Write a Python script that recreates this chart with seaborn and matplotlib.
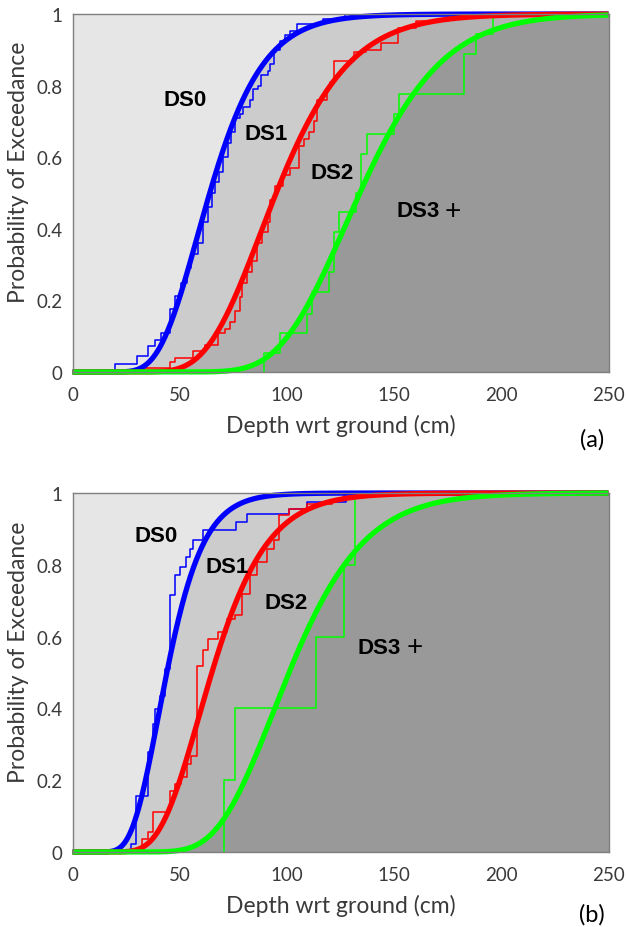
import math
import numpy as np
import matplotlib
matplotlib.use("Agg")
import matplotlib.pyplot as plt
import seaborn as sns

# ---- fitted lognormal fragility parameters (median depth in cm, log-std) ----
states = ["DS0", "DS1", "DS2"]
median_a = [64.0, 95.0, 134.0]
beta_a = [0.305, 0.28, 0.225]
median_b = [44.0, 65.0, 101.0]
beta_b = [0.305, 0.31, 0.27]

# ---- empirical exceedance steps: depth (cm) and probability after the step ----
blue_x_a = [20.0, 30.0, 35.3, 38.5, 41.5, 45.3, 47.7, 50.8, 53.2, 55.5, 58.6, 61.0,
            63.3, 65.0, 66.5, 68.5, 70.0, 72.5, 74.0, 76.0, 78.0, 79.6, 83.0, 84.0,
            86.6, 88.0, 91.0, 92.0, 94.0, 96.6, 99.0, 101.6, 104.7, 117.0, 127.3]
blue_p_a = [0.022, 0.045, 0.073, 0.09, 0.11, 0.176, 0.213, 0.25, 0.29, 0.33, 0.36, 0.42,
            0.46, 0.50, 0.53, 0.56, 0.60, 0.64, 0.67, 0.71, 0.72, 0.74, 0.76, 0.79,
            0.80, 0.83, 0.84, 0.86, 0.90, 0.925, 0.94, 0.953, 0.972, 0.986, 1.0]
red_x_a = [30.0, 45.3, 47.7, 56.0, 62.0, 68.0, 71.1, 73.5, 75.8, 78.2, 79.0, 81.3,
           83.6, 86.0, 88.3, 91.1, 92.2, 94.6, 98.0, 101.6, 105.5, 107.8, 110.2, 112.5,
           114.1, 118.8, 120.3, 121.9, 131.3, 136.7, 143.8, 152.0, 160.0, 175.0]
red_p_a = [0.012, 0.028, 0.04, 0.058, 0.075, 0.11, 0.12, 0.14, 0.17, 0.21, 0.25, 0.28,
           0.31, 0.36, 0.39, 0.42, 0.48, 0.52, 0.55, 0.57, 0.63, 0.65, 0.67, 0.70,
           0.76, 0.79, 0.81, 0.87, 0.894, 0.90, 0.92, 0.96, 0.98, 1.0]
green_x_a = [89.2, 96.9, 109.4, 111.7, 119.5, 121.9, 124.2, 132.0, 134.4, 137.5,
             150.0, 152.4, 182.8, 188.3, 196.1]
green_p_a = [0.053, 0.109, 0.162, 0.223, 0.278, 0.39, 0.446, 0.50, 0.61, 0.665,
             0.72, 0.777, 0.888, 0.944, 1.0]

blue_x_b = [27.4, 29.7, 35.2, 37.5, 38.3, 40.6, 43.0, 45.3, 47.7, 50.3, 52.8, 54.7,
            56.3, 60.7, 76.3, 81.3, 100.8, 109.4, 127.4]
blue_p_b = [0.022, 0.157, 0.278, 0.357, 0.398, 0.435, 0.51, 0.715, 0.771, 0.794, 0.822,
            0.845, 0.868, 0.896, 0.919, 0.942, 0.956, 0.975, 1.0]
red_x_b = [32.5, 35.2, 37.5, 45.3, 47.7, 50.8, 53.2, 55.5, 58.0, 61.0, 63.3, 68.0,
           71.9, 75.8, 78.9, 82.8, 86.0, 90.7, 93.8, 96.5, 100.8, 109.4, 121.1, 126.6]
red_p_b = [0.036, 0.056, 0.112, 0.171, 0.19, 0.208, 0.245, 0.268, 0.519, 0.562, 0.594,
           0.613, 0.65, 0.66, 0.72, 0.771, 0.808, 0.845, 0.868, 0.938, 0.956, 0.97,
           0.98, 1.0]
green_x_b = [70.8, 75.8, 113.8, 126.6, 131.6]
green_p_b = [0.2, 0.4, 0.6, 0.8, 1.0]

x_ticks = [0, 50, 100, 150, 200, 250]
y_ticks = [0, 0.2, 0.4, 0.6, 0.8, 1.0]
y_tick_labels = ["0", "0.2", "0.4", "0.6", "0.8", "1"]

curve_colors = ["#0000ff", "#ff0000", "#00ff00"]
zone_colors = ["#e6e6e6", "#cccccc", "#b3b3b3", "#999999"]
text_gray = "#3a3a3a"

sns.set_theme(style="white")
plt.rcParams["font.family"] = ["Lato", "DejaVu Sans"]


def lognorm_cdf(x, median, beta):
    return np.array([0.0 if v <= 0 else
                     0.5 * (1.0 + math.erf(math.log(v / median) / (beta * math.sqrt(2.0))))
                     for v in x])


def draw_panel(ax, medians, betas, steps, label_pos, tag, tag_y):
    depth = np.linspace(0, 250, 1251)
    cdfs = [lognorm_cdf(depth, m, b) for m, b in zip(medians, betas)]

    # damage-state zones between the fitted curves
    ax.fill_between(depth, cdfs[0], 1.0, color=zone_colors[0], lw=0)
    ax.fill_between(depth, cdfs[1], cdfs[0], color=zone_colors[1], lw=0)
    ax.fill_between(depth, cdfs[2], cdfs[1], color=zone_colors[2], lw=0)
    ax.fill_between(depth, 0.0, cdfs[2], color=zone_colors[3], lw=0)

    # empirical step curves
    for (xs, ps), c in zip(steps, curve_colors):
        sns.lineplot(x=[xs[0]] + list(xs), y=[0.0] + list(ps), drawstyle="steps-post",
                     estimator=None, sort=False, color=c, lw=1.1, ax=ax)

    # fitted fragility curves
    for cdf, c in zip(cdfs, curve_colors):
        sns.lineplot(x=depth, y=cdf, estimator=None, sort=False, color=c, lw=3.8,
                     ax=ax, clip_on=False, solid_capstyle="butt")

    ax.set_xlim(0, 250)
    ax.set_ylim(0, 1)
    ax.set_xticks(x_ticks)
    ax.set_xticklabels([str(t) for t in x_ticks])
    ax.set_yticks(y_ticks)
    ax.set_yticklabels(y_tick_labels)
    ax.tick_params(axis="both", length=0, labelsize=13.5, colors=text_gray)
    ax.tick_params(axis="x", pad=10)
    ax.tick_params(axis="y", pad=7)
    for s in ax.spines.values():
        s.set_color("#7f7f7f")
        s.set_linewidth(1.0)

    ax.set_xlabel("Depth wrt ground (cm)", fontsize=16.5, color=text_gray)
    ax.xaxis.set_label_coords(0.5, -53 / 358)
    ax.xaxis.label.set_va("center")
    ax.set_ylabel("Probability of Exceedance", fontsize=16.5, color=text_gray)
    ax.yaxis.set_label_coords(-54 / 536, 0.56)
    ax.yaxis.label.set_va("center")

    names = ["DS0", "DS1", "DS2", "DS3"]
    for name, (x, y) in zip(names, label_pos[:4]):
        ax.text(x, y, name, fontsize=16, fontweight="bold", ha="center", va="center",
                color="black", family=["Liberation Sans", "DejaVu Sans"])
    px, py = label_pos[4]
    ax.text(px, py, "+", fontsize=20, ha="center", va="center", color="black",
            family=["Liberation Sans", "DejaVu Sans"])

    ax.figure.text(592 / 626, 1 - tag_y / 928, tag, fontsize=17, ha="center",
                   va="center", color="black")


fig = plt.figure(figsize=(6.26, 9.28), dpi=100)
ax_a = fig.add_axes([72.5 / 626, 1 - 373 / 928, 536 / 626, 358 / 928])
ax_b = fig.add_axes([72.5 / 626, 1 - 853 / 928, 536 / 626, 359 / 928])

draw_panel(ax_a, median_a, beta_a,
           [(blue_x_a, blue_p_a), (red_x_a, red_p_a), (green_x_a, green_p_a)],
           [(52.4, 0.762), (90.3, 0.665), (121.3, 0.557), (161.0, 0.45), (177.5, 0.45)],
           "(a)", 440)
draw_panel(ax_b, median_b, beta_b,
           [(blue_x_b, blue_p_b), (red_x_b, red_p_b), (green_x_b, green_p_b)],
           [(39.1, 0.881), (71.9, 0.795), (99.6, 0.694), (143.0, 0.571), (159.5, 0.571)],
           "(b)", 915)

fig.savefig("out.png", dpi=100, facecolor="white")
